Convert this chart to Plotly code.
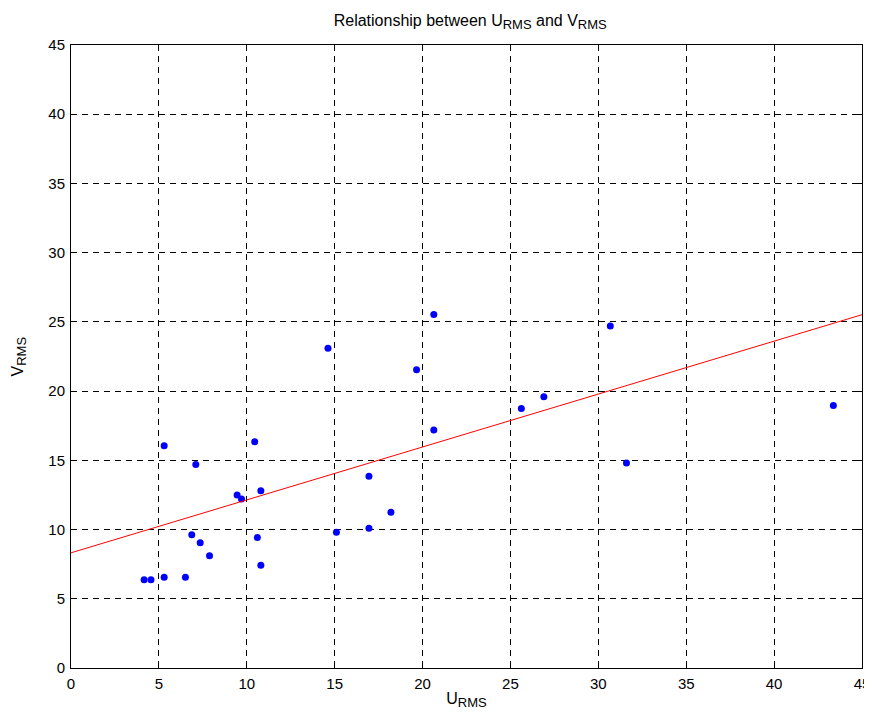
import plotly.graph_objects as go

u_rms = [4.16, 4.55, 5.3, 6.51, 5.3, 7.1, 6.87, 7.35, 7.88, 9.45, 9.7, 10.45, 10.8, 10.6, 10.8,
         15.1, 14.62, 20.64, 19.66, 20.64, 16.95, 18.2, 16.95, 25.62, 26.9, 30.68, 31.6, 43.37]
v_rms = [6.37, 6.37, 6.56, 6.56, 16.06, 14.7, 9.62, 9.04, 8.1, 12.5, 12.2, 16.35, 12.8, 9.42, 7.42,
         9.8, 23.1, 25.54, 21.55, 17.2, 13.85, 11.25, 10.1, 18.75, 19.6, 24.7, 14.8, 18.96]

fit_x = [0, 45]
fit_y = [8.32, 25.52]

tick_vals = [0, 5, 10, 15, 20, 25, 30, 35, 40, 45]

SUB = '<sub><span style="font-size:13px">RMS</span></sub>'
FONT = "Liberation Sans, Arial"

fig = go.Figure()
fig.add_trace(go.Scatter(x=u_rms, y=v_rms, mode="markers",
                         marker=dict(color="#0000ff", size=7, line=dict(width=0)),
                         showlegend=False))
fig.add_trace(go.Scatter(x=fit_x, y=fit_y, mode="lines",
                         line=dict(color="#ff0000", width=1), showlegend=False))

axis_common = dict(
    range=[0, 45], tickvals=tick_vals, showgrid=True, gridcolor="#000000", gridwidth=1,
    griddash="6px,5px", zeroline=False, showline=True, linecolor="#000000", linewidth=1,
    mirror="ticks", ticks="inside", ticklen=6, tickcolor="#000000", automargin=False,
    tickfont=dict(family=FONT, size=15, color="#000000"), ticklabelstandoff=2,
    ticklabeloverflow="allow",
)

fig.update_layout(
    width=864, height=702,
    margin=dict(l=63, r=10, t=37, b=42),
    paper_bgcolor="white", plot_bgcolor="white",
    title=dict(text="Relationship between U" + SUB + " and V" + SUB,
               x=0.535, xanchor="center", y=0.983, yanchor="middle",
               font=dict(family=FONT, size=16, color="#000000")),
    xaxis=dict(**axis_common,
               title=dict(text="U" + SUB, standoff=6,
                          font=dict(family=FONT, size=16, color="#000000"))),
    yaxis=dict(**axis_common),
    annotations=[dict(text="V" + SUB, xref="paper", yref="paper", x=-0.067, y=0.5,
                      xanchor="center", yanchor="middle", textangle=-90, showarrow=False,
                      font=dict(family=FONT, size=16, color="#000000"))],
)

fig.write_html("out.html")
